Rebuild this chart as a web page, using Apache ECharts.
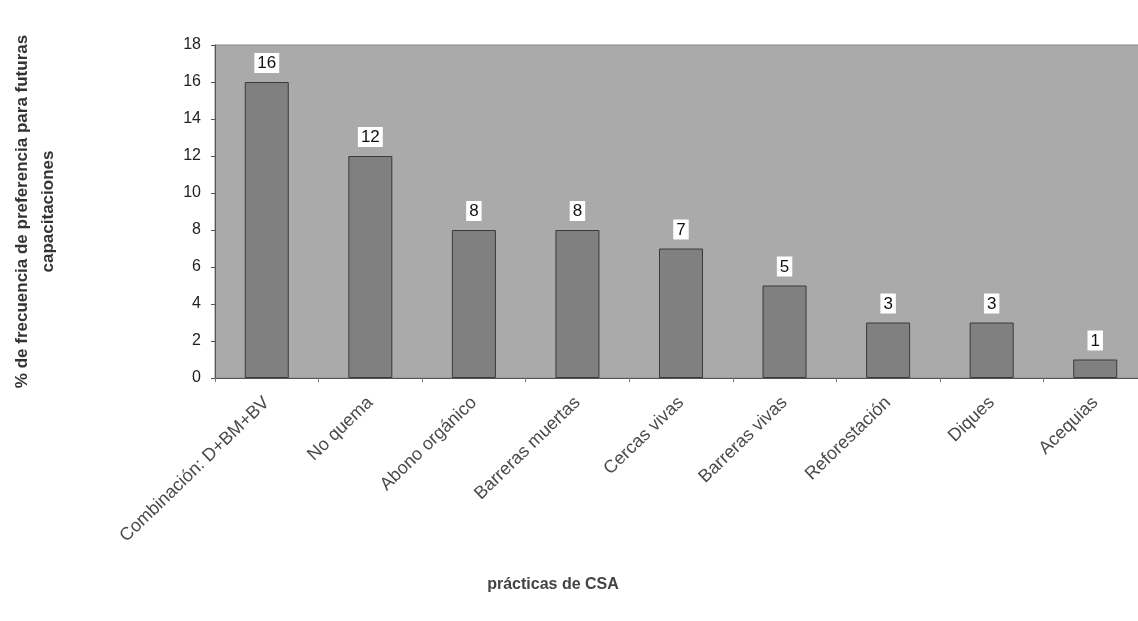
<!DOCTYPE html>
<html><head><meta charset="utf-8">
<script src="https://cdn.jsdelivr.net/npm/echarts@6/dist/echarts.min.js"></script>
<style>html,body{margin:0;padding:0;background:#fff}#c{width:1138px;height:621px}</style>
</head><body><div id="c"></div>
<script>
const categories = ["Combinación: D+BM+BV","No quema","Abono orgánico","Barreras muertas","Cercas vivas","Barreras vivas","Reforestación","Diques","Acequias"];
const values = [16,12,8,8,7,5,3,3,1];
const yTicks = {min:0, max:18, interval:2};
const yTitle = "% de frecuencia de preferencia para futuras\ncapacitaciones";
const xTitle = "prácticas de CSA";

const chart = echarts.init(document.getElementById('c'), null, {renderer:'canvas'});
chart.setOption({
  backgroundColor:'#fff',
  animation:false,
  grid:{left:215, top:45, width:932, height:333, outerBoundsMode:'none', containLabel:false, show:true, backgroundColor:'#aaaaaa', borderColor:'#8a8a8a', borderWidth:1},
  xAxis:{
    type:'category', data:categories,
    axisLine:{lineStyle:{color:'#555', width:1}},
    axisTick:{show:true, alignWithLabel:false, lineStyle:{color:'#777'}, length:4},
    axisLabel:{rotate:44, color:'#4a4a4a', fontFamily:'Liberation Sans, Arial, sans-serif', fontSize:18, margin:22, interval:0},
    name:xTitle, nameLocation:'middle', nameGap:199,
    nameTextStyle:{fontFamily:'Liberation Sans, Arial, sans-serif', fontWeight:'bold', fontSize:16, color:'#444', padding:[0,0,0,-256]}
  },
  yAxis:{
    type:'value', min:yTicks.min, max:yTicks.max, interval:yTicks.interval,
    splitLine:{show:false},
    axisLine:{show:true, lineStyle:{color:'#555'}},
    axisTick:{show:true, length:4, lineStyle:{color:'#555'}},
    axisLabel:{color:'#222', fontSize:16, fontFamily:'Liberation Sans, Arial, sans-serif', margin:14},
    name:yTitle, nameLocation:'middle', nameGap:154, nameRotate:90,
    nameTextStyle:{fontFamily:'Liberation Sans, Arial, sans-serif', fontWeight:'bold', fontSize:17, color:'#333', lineHeight:26, align:'center'}
  },
  series:[{
    type:'bar', data:values, barWidth:44,
    itemStyle:{color:'#808080', borderColor:'#3a3a3a', borderWidth:1},
    label:{show:true, position:'top', distance:9, color:'#111', fontSize:17, fontFamily:'Liberation Sans, Arial, sans-serif', backgroundColor:'#fff', padding:[2,3,1,3]}
  }]
});
</script></body></html>
